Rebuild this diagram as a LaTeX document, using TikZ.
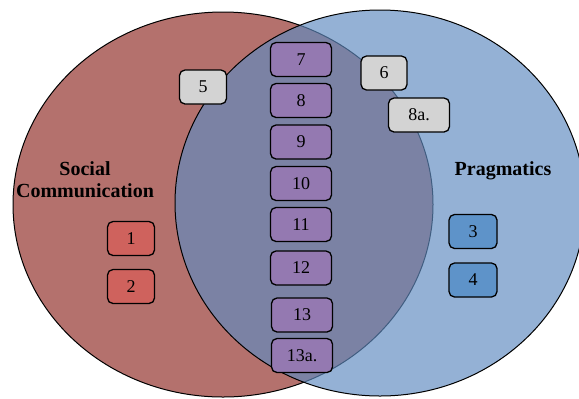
\documentclass[tikz,border=0pt]{standalone}
\usepackage{fontspec}
\setmainfont{Liberation Serif}
\definecolor{socialred}{RGB}{180,113,109}
\definecolor{pragblue}{RGB}{96,139,192}
\definecolor{boxred}{RGB}{207,98,93}
\definecolor{boxblue}{RGB}{94,147,201}
\definecolor{boxpurple}{RGB}{148,121,177}
\definecolor{boxgray}{RGB}{211,211,211}
\tikzset{
  item/.style={draw=black, line width=1.3bp, rounded corners=5.5bp, inner sep=0pt,
    minimum width=61bp, minimum height=34bp,
    font=\fontsize{18bp}{21bp}\selectfont},
  narrow/.style={minimum width=47bp},
  social/.style={item, narrow, fill=boxred},
  prag/.style={item, narrow, fill=boxblue},
  shared/.style={item, fill=boxpurple},
  partial/.style={item, fill=boxgray},
  setlabel/.style={font=\bfseries\fontsize{20bp}{22bp}\selectfont, align=center, inner sep=0pt}
}
\begin{document}
\begin{tikzpicture}[x=1bp, y=-1bp]
  \useasboundingbox (0,0) rectangle (579,398);
  \begin{scope}
    \clip (0,0) rectangle (579,398);
    % the two sets
    \fill[socialred] (223,204.5) ellipse [x radius=210, y radius=192.5];
    \draw[black, line width=1bp] (223,204.5) ellipse [x radius=210, y radius=192.5];
    \fill[pragblue, fill opacity=0.67] (380,203) ellipse [x radius=205, y radius=193];
    \draw[black, line width=1bp] (380,203) ellipse [x radius=205, y radius=193];
  \end{scope}

  % set names
  \node[setlabel] (lsocial) at (85,179.5) {Social\\Communication};
  \node[setlabel, anchor=base] (lprag) at (503,175) {Pragmatics};

  % social communication only
  \node[social] (n1) at (131,238.5) {1};
  \node[social] (n2) at (131,286.5) {2};

  % pragmatics only
  \node[prag, minimum width=48bp] (n3) at (473,231.5) {3};
  \node[prag, minimum width=48bp] (n4) at (473,280) {4};

  % on the borders
  \node[partial, narrow] (n5) at (203,87) {5};
  \node[partial, minimum width=46bp] (n6) at (384,73) {6};
  \node[partial] (n8a) at (419,115) {8a.};

  % shared items
  \node[shared] (n7)  at (301,59.5)  {7};
  \node[shared] (n8)  at (301,100.5) {8};
  \node[shared] (n9)  at (301,142)   {9};
  \node[shared] (n10) at (301,183.5) {10};
  \node[shared] (n11) at (301,224.5) {11};
  \node[shared] (n12) at (301,268)   {12};
  \node[shared] (n13) at (302,315)   {13};
  \node[shared] (n13a) at (302,355.5) {13a.};
\end{tikzpicture}
\end{document}
